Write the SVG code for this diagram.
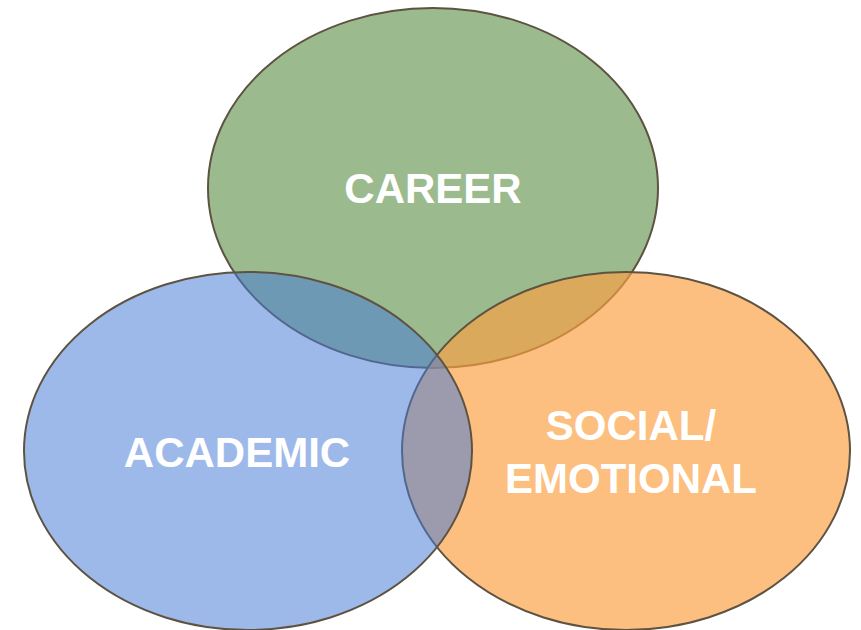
<svg xmlns="http://www.w3.org/2000/svg" width="861" height="630" viewBox="0 0 861 630">
<style>
.lbl{font-family:"Liberation Sans",Arial,sans-serif;font-weight:bold;font-size:42px;fill:#ffffff;text-anchor:middle}
.ring{stroke:#5e5241;stroke-width:2}
</style>
<rect width="861" height="630" fill="#ffffff"/>
<g id="career">
<ellipse class="ring" cx="433" cy="188" rx="225" ry="180" fill="#9bbb8f"/>
</g>
<g id="social-emotional">
<ellipse class="ring" cx="626" cy="451" rx="224" ry="179" fill="#fba042" fill-opacity="0.67"/>
</g>
<g id="academic">
<ellipse class="ring" cx="248" cy="451" rx="224" ry="179" fill="#467bd5" fill-opacity="0.53"/>
</g>
<g id="labels">
<text class="lbl" x="433" y="203">CAREER</text>
<text class="lbl" x="237" y="467">ACADEMIC</text>
<text class="lbl" x="631" y="440">SOCIAL/</text>
<text class="lbl" x="631" y="493">EMOTIONAL</text>
</g>
<g id="connectors"></g>
</svg>
